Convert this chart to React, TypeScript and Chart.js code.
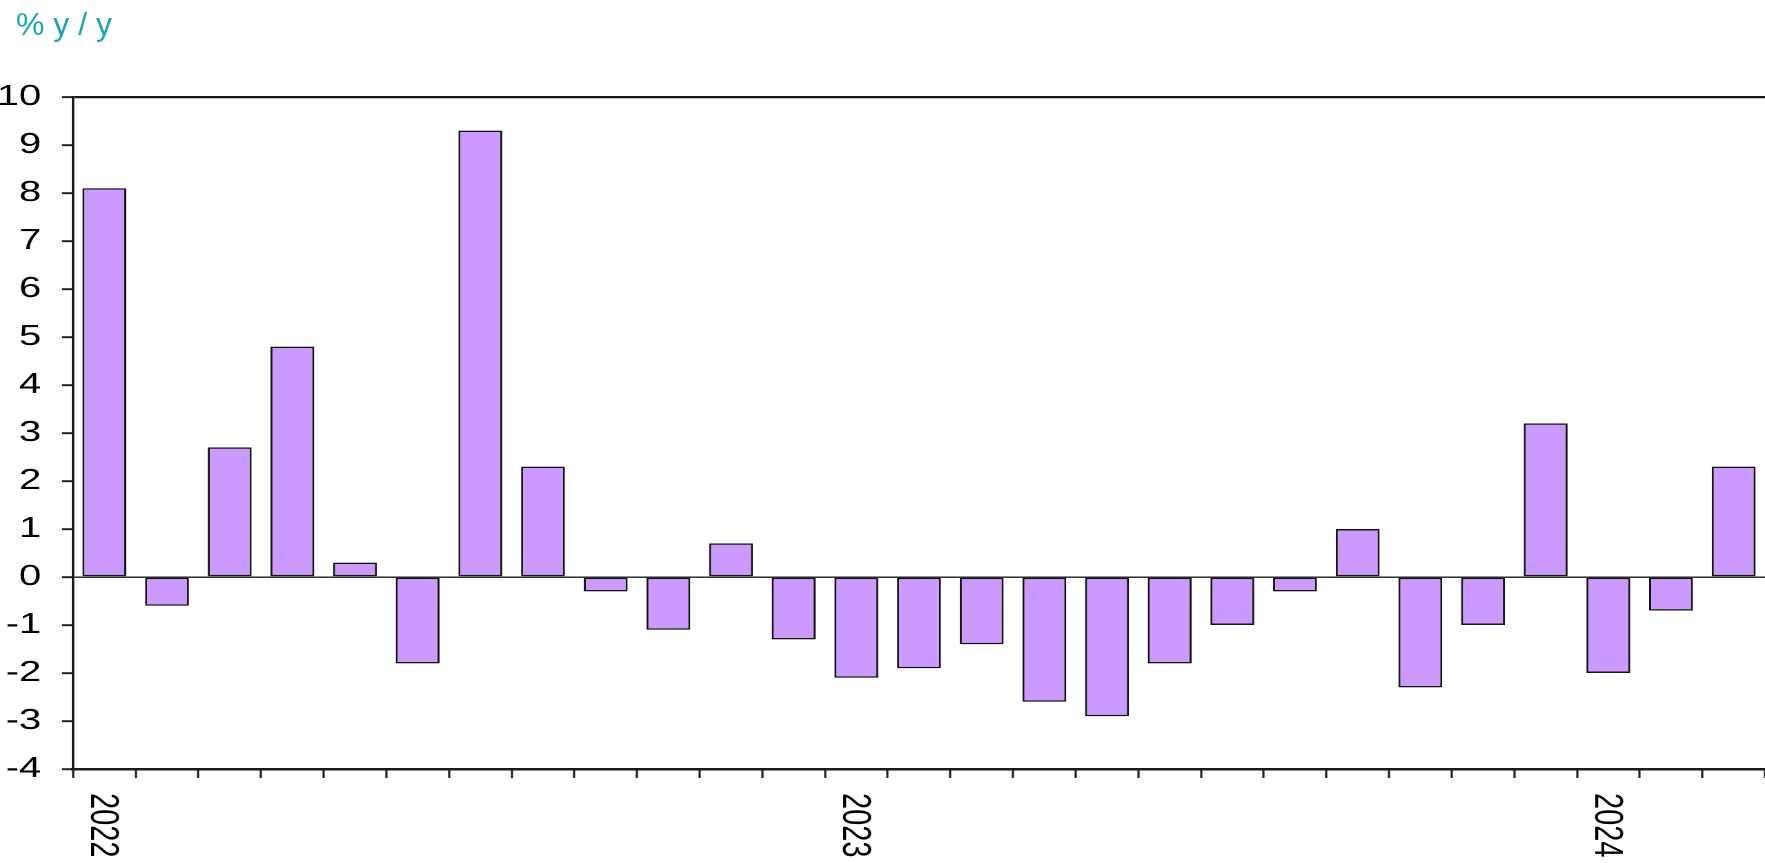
import React, { useEffect, useRef } from 'react';
import { Chart, registerables } from 'chart.js';

Chart.register(...registerables);

// ---- data ----
const categories: string[] = [
  '2022-01', '2022-02', '2022-03', '2022-04', '2022-05', '2022-06',
  '2022-07', '2022-08', '2022-09', '2022-10', '2022-11', '2022-12',
  '2023-01', '2023-02', '2023-03', '2023-04', '2023-05', '2023-06',
  '2023-07', '2023-08', '2023-09', '2023-10', '2023-11', '2023-12',
  '2024-01', '2024-02', '2024-03',
];
const tickLabels: string[] = [
  '2022', '', '', '', '', '', '', '', '', '', '', '',
  '2023', '', '', '', '', '', '', '', '', '', '', '',
  '2024', '', '',
];
const values: number[] = [
  8.1, -0.6, 2.7, 4.8, 0.3, -1.8, 9.3, 2.3, -0.3, -1.1, 0.7, -1.3,
  -2.1, -1.9, -1.4, -2.6, -2.9, -1.8, -1.0, -0.3, 1.0, -2.3, -1.0, 3.2,
  -2.0, -0.7, 2.3,
];
const yMin = -4;
const yMax = 10;
const unitLabel = '% y / y';

// ---- layout ----
const DISPLAY_W = 1765;
const DISPLAY_H = 863;
const STRETCH = 1.38; // reference is horizontally stretched
const INNER_W = Math.round(DISPLAY_W / STRETCH);
const FONT = '"Liberation Sans", Arial, Helvetica, sans-serif';

const xLabelPlugin = {
  id: 'xLabelPlugin',
  afterDraw(chart: any) {
    const ctx = chart.ctx as CanvasRenderingContext2D;
    const xs = chart.scales.x;
    ctx.save();
    ctx.font = `29px ${FONT}`;
    ctx.fillStyle = '#000';
    tickLabels.forEach((t, i) => {
      if (!t) return;
      const px = xs.getPixelForValue(i);
      ctx.save();
      ctx.translate(px - 1.5, xs.top + 24);
      ctx.rotate(Math.PI / 2);
      ctx.textAlign = 'left';
      ctx.textBaseline = 'middle';
      ctx.fillText(t, 0, 0);
      ctx.restore();
    });
    ctx.restore();
  },
};

export default function App() {
  const canvasRef = useRef<HTMLCanvasElement | null>(null);

  useEffect(() => {
    if (!canvasRef.current) return;
    const chart = new Chart(canvasRef.current, {
      type: 'bar',
      data: {
        labels: categories,
        datasets: [
          {
            data: values,
            backgroundColor: '#CC99FF',
            borderColor: '#141414',
            borderWidth: 1.5,
            borderSkipped: false,
            barPercentage: 0.7,
            categoryPercentage: 1.0,
          },
        ],
      },
      options: {
        animation: false,
        responsive: false,
        devicePixelRatio: 2,
        layout: { padding: { top: 97, left: 0, right: 0, bottom: 0 } },
        plugins: {
          legend: { display: false },
          tooltip: { enabled: false },
          title: { display: false },
        },
        scales: {
          x: {
            type: 'category',
            offset: true,
            afterFit: (s: any) => {
              s.height = DISPLAY_H - 769;
            },
            grid: {
              offset: true,
              drawOnChartArea: false,
              drawTicks: true,
              tickLength: 9,
              color: '#222',
              tickColor: '#222',
              tickWidth: 1.6,
            },
            border: { display: true, color: '#1a1a1a', width: 2.5 },
            ticks: { display: false },
          },
          y: {
            min: yMin,
            max: yMax,
            afterFit: (s: any) => {
              s.width = 73 / STRETCH;
            },
            ticks: {
              stepSize: 1,
              padding: 15,
              color: '#000',
              font: { family: FONT, size: 29 },
            },
            grid: {
              drawOnChartArea: true,
              drawTicks: true,
              tickLength: 8,
              color: (c: any) =>
                c.tick && (c.tick.value === yMax || c.tick.value === 0)
                  ? '#1a1a1a'
                  : 'rgba(0,0,0,0)',
              lineWidth: (c: any) => (c.tick && c.tick.value === yMax ? 2.2 : 1.4),
              tickColor: '#222',
              tickWidth: 2,
            },
            border: { display: true, color: '#1a1a1a', width: 1.8 },
          },
        },
      },
      plugins: [xLabelPlugin],
    });
    return () => chart.destroy();
  }, []);

  return (
    <div
      style={{
        position: 'absolute',
        left: 0,
        top: 0,
        width: DISPLAY_W,
        height: DISPLAY_H,
        background: '#fff',
        overflow: 'hidden',
      }}
    >
      <canvas
        ref={canvasRef}
        width={INNER_W}
        height={DISPLAY_H}
        style={{ width: `${DISPLAY_W}px`, height: `${DISPLAY_H}px`, display: 'block' }}
      />
      <div
        style={{
          position: 'absolute',
          left: 16,
          top: 8,
          fontFamily: FONT,
          fontSize: 32,
          lineHeight: '32px',
          color: '#1AA6B7',
          whiteSpace: 'pre',
        }}
      >
        {unitLabel}
      </div>
    </div>
  );
}
